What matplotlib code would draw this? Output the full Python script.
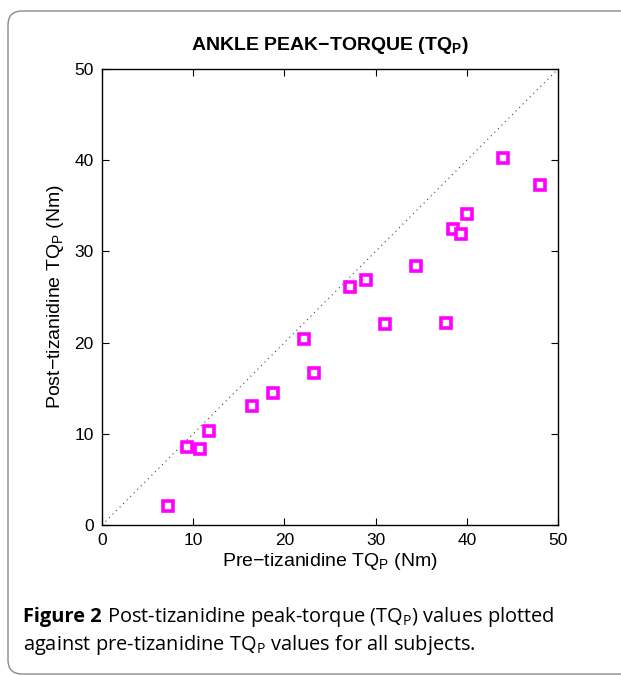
import matplotlib
matplotlib.use("Agg")
import matplotlib.pyplot as plt
from matplotlib.patches import FancyBboxPatch

pre_tq = [7.2, 9.3, 10.8, 11.7, 16.5, 18.7, 22.2, 23.2, 27.2, 29.0, 31.0,
          34.4, 37.7, 38.5, 39.4, 40.0, 44.0, 48.0]
post_tq = [2.1, 8.6, 8.3, 10.3, 13.0, 14.5, 20.4, 16.7, 26.1, 26.9, 22.0,
           28.4, 22.1, 32.5, 31.9, 34.1, 40.2, 37.3]
ticks = [0, 10, 20, 30, 40, 50]
identity = [0, 50]

W, H = 621, 675
plt.rcParams['font.family'] = ['Liberation Sans', 'DejaVu Sans']
plt.rcParams['mathtext.fontset'] = 'custom'
plt.rcParams['mathtext.rm'] = 'Liberation Sans'
fig = plt.figure(figsize=(W/100, H/100), dpi=100)

# frame with rounded left corners (in inches)
frame = FancyBboxPatch((8/100, 1/100), 7.0, (673-10)/100,
                       boxstyle="round,pad=0,rounding_size=0.14",
                       transform=fig.dpi_scale_trans, fill=False,
                       edgecolor='#8a8a8a', linewidth=1.0)
fig.patches.append(frame)

ax = fig.add_axes([102/W, (H-525)/H, 456/W, 456/H])
ax.plot(identity, identity, linestyle=(0, (1, 3.5)), color='#444444', linewidth=0.8)
ax.plot(pre_tq, post_tq, linestyle='none', marker='s', markersize=6.5,
        markerfacecolor='white', markeredgecolor='#ff00ff', markeredgewidth=2.6)
ax.set_xlim(0, 50)
ax.set_ylim(0, 50)
ax.set_xticks(ticks)
ax.set_yticks(ticks)
ax.tick_params(direction='in', top=True, right=True, labelsize=12.5,
               length=5, width=0.8, pad=6)
for s in ax.spines.values():
    s.set_linewidth(1.0)
ax.set_title('ANKLE PEAK\u2212TORQUE (TQ$_\\mathregular{P}$)', fontsize=14,
             fontweight='bold', pad=14)
ax.set_xlabel('Pre\u2212tizanidine TQ$_\\mathregular{P}$ (Nm)', fontsize=14, labelpad=2)
ax.set_ylabel('Post\u2212tizanidine TQ$_\\mathregular{P}$ (Nm)', fontsize=14, labelpad=6)

cap_size = 14.4
t1 = fig.text(23/W, 1 - 622/H, 'Figure 2', fontsize=cap_size, va='baseline',
              family='Open Sans', fontweight='bold')
fig.canvas.draw()
bb = t1.get_window_extent()
fig.text((bb.x1 + 5) / W, 1 - 622/H,
         'Post-tizanidine peak-torque (TQ$_\\mathregular{P}$) values plotted',
         fontsize=cap_size, va='baseline', family='Open Sans')
fig.text(23/W, 1 - 650/H,
         'against pre-tizanidine TQ$_\\mathregular{P}$ values for all subjects.',
         fontsize=cap_size, va='baseline', family='Open Sans')

fig.savefig('out.png', dpi=100)
